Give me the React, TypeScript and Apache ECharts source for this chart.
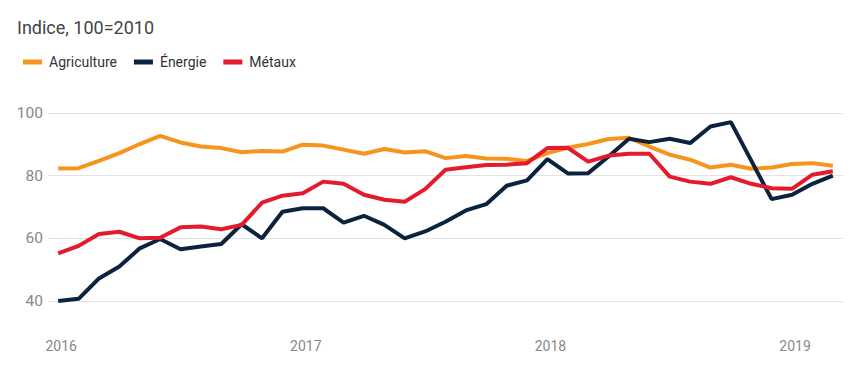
import React, { useEffect, useRef } from "react";
import * as echarts from "echarts";

const months: string[] = [];
for (let y = 2016; y <= 2019; y++) {
  for (let m = 1; m <= 12; m++) {
    if (y === 2019 && m > 3) break;
    months.push(`${y}-${String(m).padStart(2, "0")}`);
  }
}

const agriculture = [82.3, 82.4, 84.7, 87.2, 90.1, 92.7, 90.6, 89.3, 88.8, 87.5, 87.9, 87.7, 89.9, 89.6, 88.3, 87.0, 88.5, 87.4, 87.8, 85.6, 86.3, 85.5, 85.4, 84.7, 87.2, 88.9, 90.1, 91.7, 92.1, 89.3, 86.7, 85.1, 82.6, 83.5, 82.2, 82.6, 83.7, 84.0, 83.2];
const energie = [40.0, 40.7, 47.2, 51.0, 56.8, 59.8, 56.5, 57.4, 58.2, 64.5, 60.0, 68.5, 69.6, 69.6, 65.0, 67.2, 64.3, 60.0, 62.2, 65.3, 68.9, 70.9, 76.8, 78.5, 85.3, 80.7, 80.8, 86.1, 91.8, 90.7, 91.8, 90.4, 95.7, 97.1, 84.8, 72.5, 73.9, 77.4, 80.0];
const metaux = [55.2, 57.6, 61.4, 62.1, 60.0, 60.2, 63.5, 63.8, 62.9, 64.3, 71.4, 73.6, 74.4, 78.1, 77.4, 73.9, 72.3, 71.7, 75.7, 81.9, 82.7, 83.4, 83.5, 84.0, 88.8, 88.9, 84.5, 86.4, 87.0, 87.0, 79.7, 78.1, 77.4, 79.5, 77.4, 76.0, 75.8, 80.3, 81.4];

const seriesNames = ["Agriculture", "Énergie", "Métaux"];
const colors = ["#f7941d", "#0c2340", "#e31b2d"];

export default function App() {
  const ref = useRef<HTMLDivElement>(null);
  useEffect(() => {
    if (!ref.current) return;
    const chart = echarts.init(ref.current, null, { renderer: "svg" });
    const datasets = [agriculture, energie, metaux];
    chart.setOption({
      animation: false,
      textStyle: { fontFamily: "Roboto" },
      title: {
        text: "Indice, 100=2010",
        left: 12,
        top: 13,
        textStyle: { fontSize: 18, fontWeight: "normal", color: "#444", fontFamily: "Roboto" },
      },
      legend: {
        left: 18,
        top: 50,
        icon: "rect",
        itemWidth: 19,
        itemHeight: 5,
        itemGap: 17,
        textStyle: { fontSize: 14, color: "#333", fontFamily: "Roboto", padding: [0, 0, 0, 2] },
        data: seriesNames,
      },
      grid: { left: 48, right: 7, top: 113, bottom: 69 },
      xAxis: {
        type: "category",
        data: months,
        boundaryGap: true,
        axisLine: { show: false },
        axisTick: { show: false },
        axisLabel: {
          interval: (index: number) => index % 12 === 0,
          formatter: (v: string) => v.slice(0, 4),
          margin: 38,
          fontSize: 14,
          color: "#888",
          fontFamily: "Roboto",
          padding: [0, 0, 0, 6],
        },
      },
      yAxis: {
        type: "value",
        min: 40,
        max: 100,
        interval: 20,
        axisLine: { show: false },
        axisTick: { show: false },
        splitLine: { lineStyle: { color: "#e3e3e3", width: 1 } },
        axisLabel: { fontSize: 15.5, color: "#888", margin: 5, fontFamily: "Roboto" },
      },
      series: seriesNames.map((name, i) => ({
        name,
        type: "line",
        data: datasets[i],
        symbol: "none",
        color: colors[i],
        lineStyle: { width: 4, color: colors[i] },
        itemStyle: { color: colors[i] },
      })),
    });
    return () => chart.dispose();
  }, []);
  return <div ref={ref} style={{ width: 850, height: 370, position: "absolute", left: 0, top: 0 }} />;
}
